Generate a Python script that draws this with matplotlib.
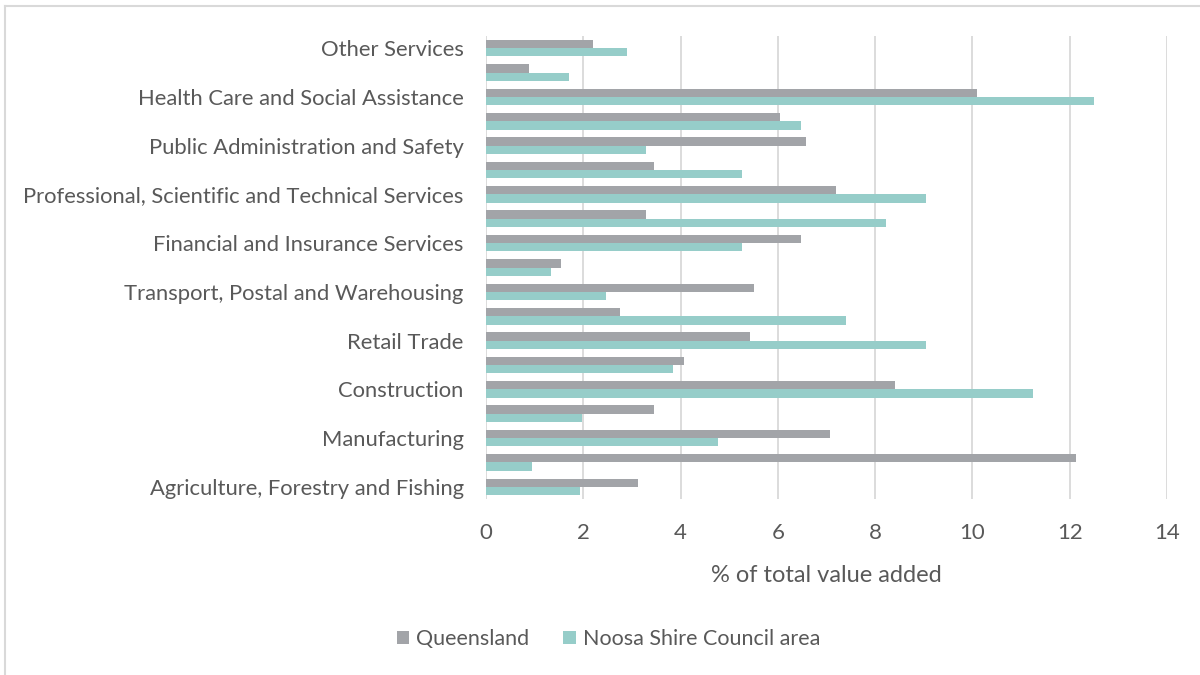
import numpy as np
import matplotlib.pyplot as plt
from matplotlib.lines import Line2D

# industries, bottom to top
industries = [
    "Agriculture, Forestry and Fishing",
    "Mining",
    "Manufacturing",
    "Electricity, Gas, Water and Waste Services",
    "Construction",
    "Wholesale Trade",
    "Retail Trade",
    "Accommodation and Food Services",
    "Transport, Postal and Warehousing",
    "Information Media and Telecommunications",
    "Financial and Insurance Services",
    "Rental, Hiring and Real Estate Services",
    "Professional, Scientific and Technical Services",
    "Administrative and Support Services",
    "Public Administration and Safety",
    "Education and Training",
    "Health Care and Social Assistance",
    "Arts and Recreation Services",
    "Other Services",
]
queensland = [3.13, 12.12, 7.08, 3.46, 8.4, 4.07, 5.43, 2.75, 5.5, 1.55,
              6.47, 3.29, 7.19, 3.46, 6.58, 6.05, 10.1, 0.89, 2.2]
noosa = [1.93, 0.94, 4.77, 1.98, 11.25, 3.85, 9.05, 7.4, 2.47, 1.33,
         5.26, 8.23, 9.05, 5.26, 3.29, 6.47, 12.5, 1.71, 2.9]
xticks = [0, 2, 4, 6, 8, 10, 12, 14]

plt.rcParams['font.family'] = ['Lato', 'DejaVu Sans']
txt = "#595959"
grey = "#A2A4A8"
teal = "#96CDC9"

fig = plt.figure(figsize=(12, 6.75), dpi=100)
ax = fig.add_axes([0.405, 0.2607, 0.5675, 0.686])

y = np.arange(len(industries))
h = 0.34
ax.barh(y + h / 2, queensland, height=h, color=grey, label="Queensland")
ax.barh(y - h / 2, noosa, height=h, color=teal, label="Noosa Shire Council area")

ax.set_xlim(0, 14)
ax.set_ylim(-0.5, len(industries) - 0.5)
ax.set_xticks(xticks)
ax.set_yticks(y[::2])
ax.set_yticklabels(industries[::2], fontsize=15.8)
ax.tick_params(axis="both", length=0, colors=txt)
ax.tick_params(axis="y", pad=16)
ax.tick_params(axis="x", pad=17, labelsize=16)
ax.grid(axis="x", color="#D9D9D9", linewidth=1.3)
ax.set_axisbelow(True)
for s in ax.spines.values():
    s.set_visible(False)
ax.set_xlabel("% of total value added", color=txt, fontsize=17, labelpad=16)

fig.legend(loc="center", bbox_to_anchor=(0.507, 0.053), ncol=2, frameon=False,
           fontsize=15.5, labelcolor=txt, handlelength=0.6, handleheight=0.6,
           handletextpad=0.3, columnspacing=1.6)

# outer chart border (top and left edges)
fig.add_artist(Line2D([0.0045, 1.0], [0.9905, 0.9905], color="#D9D9D9", lw=1.5))
fig.add_artist(Line2D([0.0045, 0.0045], [0.0, 0.9905], color="#D9D9D9", lw=1.5))

fig.savefig("out.png", dpi=100)
